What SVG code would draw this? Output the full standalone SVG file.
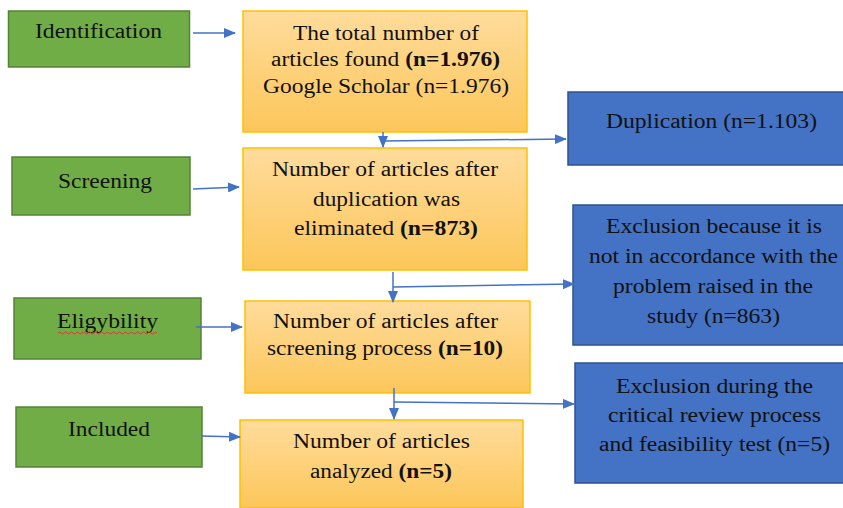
<svg xmlns="http://www.w3.org/2000/svg" width="843" height="508" viewBox="0 0 843 508">
<defs>
<linearGradient id="og" x1="0" y1="0" x2="0" y2="1">
<stop offset="0" stop-color="#ffdc9c"/>
<stop offset="1" stop-color="#fcc659"/>
</linearGradient>
<marker id="ah" markerWidth="12" markerHeight="10" refX="11" refY="5" orient="auto" markerUnits="userSpaceOnUse">
<path d="M0,0 L12,5 L0,10 Z" fill="#4472c4"/>
</marker>
<style>
.g{fill:#70ad47;stroke:#548235;stroke-width:1.5}
.o{fill:url(#og);stroke:#ffc000;stroke-width:1.5}
.b{fill:#4472c4;stroke:#2f528f;stroke-width:1.5}
.t{font-family:'Liberation Serif','Times New Roman',Times,'DejaVu Serif','Noto Serif',FreeSerif,serif;font-size:20px;fill:#111;text-anchor:middle}
.bd{font-weight:bold}
.ca{stroke:#4472c4;stroke-width:1.5;fill:none;marker-end:url(#ah)}
</style>
</defs>
<g class="t">
<g id="identification"><rect class="g" x="8.5" y="11" width="181" height="56"/><text x="98.5" y="38" textLength="127" lengthAdjust="spacingAndGlyphs">Identification</text></g>
<g id="screening"><rect class="g" x="12" y="157" width="178" height="58"/><text x="105" y="188" textLength="94" lengthAdjust="spacingAndGlyphs">Screening</text></g>
<g id="eligybility"><rect class="g" x="14" y="298" width="187" height="61"/><text x="107.5" y="328" textLength="101" lengthAdjust="spacingAndGlyphs">Eligybility</text>
<path d="M58,333 q1.5,-2 3,0 t3,0 t3,0 t3,0 t3,0 t3,0 t3,0 t3,0 t3,0 t3,0 t3,0 t3,0 t3,0 t3,0 t3,0 t3,0 t3,0 t3,0 t3,0 t3,0 t3,0 t3,0 t3,0 t3,0 t3,0 t3,0 t3,0 t3,0 t3,0 t3,0 t3,0 t3,0 t3,0" fill="none" stroke="#e03030" stroke-width="0.9"/></g>
<g id="included"><rect class="g" x="16" y="407" width="186" height="60"/><text x="109" y="436" textLength="82" lengthAdjust="spacingAndGlyphs">Included</text></g>
<g id="total"><rect class="o" x="243" y="11" width="284" height="121"/>
<text x="386" y="40" textLength="186" lengthAdjust="spacingAndGlyphs">The total number of</text>
<text x="385.5" y="66" textLength="229" lengthAdjust="spacingAndGlyphs">articles found <tspan class="bd">(n=1.976)</tspan></text>
<text x="386" y="93" textLength="246" lengthAdjust="spacingAndGlyphs">Google Scholar (n=1.976)</text></g>
<g id="afterdup"><rect class="o" x="243" y="148" width="284" height="122"/>
<text x="385" y="176" textLength="226" lengthAdjust="spacingAndGlyphs">Number of articles after</text>
<text x="386.5" y="206" textLength="147" lengthAdjust="spacingAndGlyphs">duplication was</text>
<text x="386" y="235" textLength="184" lengthAdjust="spacingAndGlyphs">eliminated <tspan class="bd">(n=873)</tspan></text></g>
<g id="afterscreen"><rect class="o" x="245" y="301" width="285" height="92"/>
<text x="385.5" y="328" textLength="225" lengthAdjust="spacingAndGlyphs">Number of articles after</text>
<text x="385" y="355" textLength="236" lengthAdjust="spacingAndGlyphs">screening process <tspan class="bd">(n=10)</tspan></text></g>
<g id="analyzed"><rect class="o" x="240" y="420" width="283" height="88"/>
<text x="381.5" y="448" textLength="177" lengthAdjust="spacingAndGlyphs">Number of articles</text>
<text x="381" y="478" textLength="142" lengthAdjust="spacingAndGlyphs">analyzed <tspan class="bd">(n=5)</tspan></text></g>
<g id="duplication"><rect class="b" x="568" y="92" width="276" height="73"/><text x="711.5" y="128" textLength="211" lengthAdjust="spacingAndGlyphs">Duplication (n=1.103)</text></g>
<g id="excl1"><rect class="b" x="573" y="205" width="271" height="140"/>
<text x="714" y="233" textLength="216" lengthAdjust="spacingAndGlyphs">Exclusion because it is</text>
<text x="713.5" y="263" textLength="249" lengthAdjust="spacingAndGlyphs">not in accordance with the</text>
<text x="713" y="293" textLength="200" lengthAdjust="spacingAndGlyphs">problem raised in the</text>
<text x="713.5" y="323" textLength="133" lengthAdjust="spacingAndGlyphs">study (n=863)</text></g>
<g id="excl2"><rect class="b" x="575" y="363" width="269" height="120"/>
<text x="714.5" y="393" textLength="197" lengthAdjust="spacingAndGlyphs">Exclusion during the</text>
<text x="714.5" y="422" textLength="213" lengthAdjust="spacingAndGlyphs">critical review process</text>
<text x="714.5" y="451" textLength="231" lengthAdjust="spacingAndGlyphs">and feasibility test (n=5)</text></g>
</g>
<g id="connectors">
<path class="ca" d="M193,33 L235,33"/>
<path class="ca" d="M193,189 L239,187"/>
<path class="ca" d="M196,327 L242,327"/>
<path class="ca" d="M202,436 L240,437"/>
<path class="ca" d="M383,132 L383,147"/>
<path class="ca" d="M383,141 L566,139"/>
<path class="ca" d="M393,272 L393,302"/>
<path class="ca" d="M393,287 L574,284"/>
<path class="ca" d="M394,388 L394,419"/>
<path class="ca" d="M394,402 L574,404"/>
</g>
</svg>
